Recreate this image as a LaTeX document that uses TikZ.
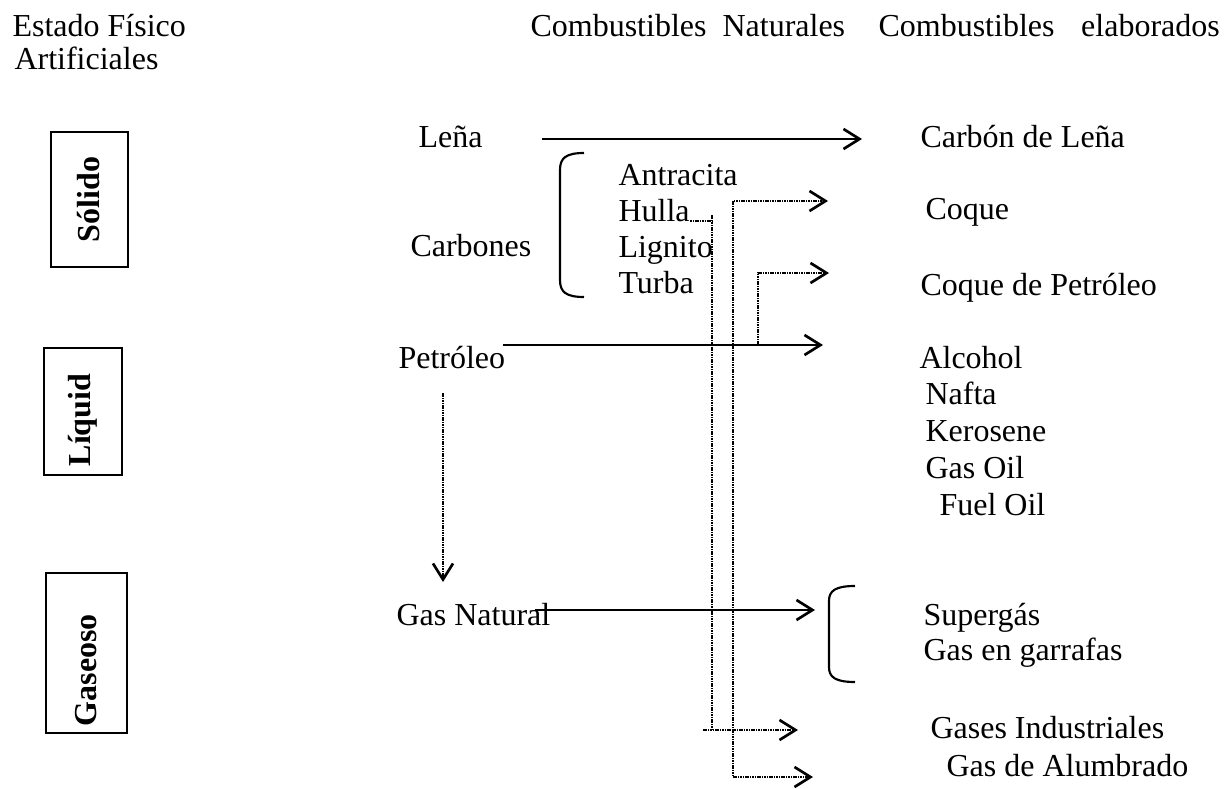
\documentclass[tikz,border=0pt]{standalone}
\usepackage{fontspec}
\setmainfont{Liberation Serif}
\usetikzlibrary{arrows.meta}
\begin{document}
\begin{tikzpicture}[x=0.375pt,y=-0.375pt,
  txt/.style={anchor=base west, inner sep=0pt, font=\fontsize{12}{14}\selectfont},
  boxlbl/.style={rotate=90, inner sep=0pt, font=\bfseries\fontsize{12}{14}\selectfont},
  statebox/.style={draw, line width=0.8pt, inner sep=0pt},
  solidarrow/.style={line width=1.1pt, -{Straight Barb[length=6pt,width=7.5pt,line width=1pt]}},
  dotline/.style={line width=0.9pt, dash pattern=on 0.6pt off 0.3pt},
  dotarrow/.style={dotline, -{Straight Barb[length=6pt,width=7.5pt,line width=1pt]}},
  brace/.style={line width=0.8pt}]
\useasboundingbox (0,0) rectangle (1230,789);

% headers
\node[txt] (h1) at (12,37) {Estado Físico};
\node[txt] (h1b) at (14,70) {Artificiales};
\node[txt] (h2) at (530,37) {Combustibles\hspace{3pt} Naturales};
\node[txt] (h3) at (878,37) {Combustibles\hspace{7pt} elaborados};

% state boxes
\node[statebox, minimum width=28.9pt, minimum height=50.6pt] (solbox) at (89.5,199.5) {};
\node[boxlbl] (sol) at (89,199.5) {Sólido};
\node[statebox, minimum width=29.25pt, minimum height=47.6pt] (liqbox) at (83,411.5) {};
\node[boxlbl] (liq) at (83,420) {Líquid};
\node[statebox, minimum width=30.4pt, minimum height=60pt] (gasbox) at (86.5,653) {};
\node[boxlbl] (gas) at (86,670) {Gaseoso};

% natural fuels
\node[txt] (lena) at (418,148) {Leña};
\node[txt] (carbones) at (410,256) {Carbones};
\node[txt] (antracita) at (618,185) {Antracita};
\node[txt] (hulla) at (618,221) {Hulla};
\node[txt] (lignito) at (618,257) {Lignito};
\node[txt] (turba) at (618,293) {Turba};
\node[txt] (petroleo) at (398,368) {Petróleo};
\node[txt] (gasnat) at (396,625) {Gas Natural};

% elaborated fuels
\node[txt] (carbonlena) at (920,148) {Carbón de Leña};
\node[txt] (coque) at (925,219) {Coque};
\node[txt] (coquepet) at (920,295) {Coque de Petróleo};
\node[txt] (alcohol) at (919,368) {Alcohol};
\node[txt] (nafta) at (925,404) {Nafta};
\node[txt] (kerosene) at (925,441) {Kerosene};
\node[txt] (gasoil) at (925,478) {Gas Oil};
\node[txt] (fueloil) at (939,515) {Fuel Oil};
\node[txt] (supergas) at (923,625) {Supergás};
\node[txt] (garrafas) at (923,660) {Gas en garrafas};
\node[txt] (gasind) at (930,738) {Gases Industriales};
\node[txt] (alumbrado) at (946,776) {Gas de Alumbrado};

% brackets
\draw[brace] (584,153) .. controls (566,153) and (560,158) .. (560,170) -- (560,280) .. controls (560,292) and (566,297) .. (584,297);
\draw[brace] (855,586) .. controls (835,586) and (829,591) .. (829,601) -- (829,667) .. controls (829,677) and (835,682) .. (855,682);

% coordinates
\coordinate (lenaA) at (542,139);
\coordinate (lenaB) at (862,139);
\coordinate (petA) at (503,345);
\coordinate (petB) at (823,345);
\coordinate (gnA) at (535,610);
\coordinate (gnB) at (815,610);
\coordinate (downA) at (443,393);
\coordinate (downB) at (443,582);
\coordinate (hullaA) at (712,221);
\coordinate (hullaV1) at (712,215);
\coordinate (hullaV2) at (712,730);
\coordinate (indA) at (703,730);
\coordinate (indB) at (798,730);
\coordinate (coqueB) at (828,201);
\coordinate (coqueC) at (733,201);
\coordinate (alumC) at (733,777);
\coordinate (alumB) at (813,777);
\coordinate (cpA) at (758,345);
\coordinate (cpC) at (758,273);
\coordinate (cpB) at (829,273);

% solid arrows
\draw[solidarrow] (lenaA) -- (lenaB);
\draw[solidarrow] (petA) -- (petB);
\draw[solidarrow] (gnA) -- (gnB);

% dotted connectors
\draw[dotarrow] (downA) -- (downB);
\draw[dotline] (hulla.base east) -- (hullaA);
\draw[dotline] (hullaV1) -- (hullaV2);
\draw[dotarrow] (indA) -- (indB);
\draw[dotline, {Straight Barb[length=6pt,width=7.5pt,line width=1pt]}-{Straight Barb[length=6pt,width=7.5pt,line width=1pt]}] (coqueB) -- (coqueC) -- (alumC) -- (alumB);
\draw[dotarrow] (cpA) -- (cpC) -- (cpB);
\end{tikzpicture}
\end{document}
